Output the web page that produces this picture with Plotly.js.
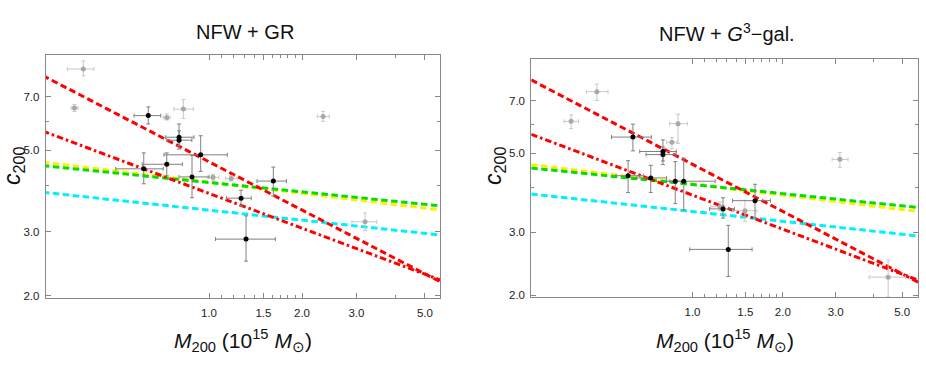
<!DOCTYPE html>
<html>
<head>
<meta charset="utf-8">
<script src="https://cdn.plot.ly/plotly-3.0.1.min.js"></script>
<style>html,body{margin:0;padding:0;background:#fff;}#chart{width:926px;height:372px;}</style>
</head>
<body>
<div id="chart"></div>
<script>
// ---------- data ----------
// model lines (same in both panels): M200 at the ends, c200 at those ends
const lineM = [0.29, 5.7];
const redDashedC = [8.0, 2.17];
const redDashDotC = [5.64, 2.20];
const yellowC = [4.64, 3.43];
const greenC = [4.54, 3.52];
const cyanC = [3.84, 2.93];

// Left panel: NFW + GR
const grBlackM   = [0.636, 0.80, 0.80, 0.94, 0.730, 0.615, 0.881, 1.27, 1.615, 1.318];
const grBlackC   = [6.22, 5.43, 5.33, 4.86, 4.58, 4.45, 4.23, 3.70, 4.12, 2.86];
const grBlackMlo = [0.572, 0.724, 0.73, 0.715, 0.608, 0.499, 0.80, 1.14, 1.43, 1.05];
const grBlackMhi = [0.698, 0.894, 0.88, 1.146, 0.82, 0.711, 1.0, 1.37, 1.78, 1.64];
const grBlackClo = [5.90, 5.15, 5.04, 4.38, 4.26, 4.05, 3.71, 3.52, 3.75, 2.49];
const grBlackChi = [6.57, 5.90, 5.65, 5.48, 4.92, 4.92, 4.84, 3.89, 4.50, 3.31];

const grGrayM   = [0.392, 0.367, 0.730, 0.826, 1.03, 1.18, 2.34, 3.2];
const grGrayC   = [8.34, 6.53, 6.15, 6.48, 4.22, 4.19, 6.19, 3.19];
const grGrayMlo = [0.348, 0.358, 0.711, 0.77, 0.987, 1.13, 2.24, 2.9];
const grGrayMhi = [0.424, 0.377, 0.748, 0.89, 1.077, 1.235, 2.45, 3.49];
const grGrayClo = [7.99, 6.38, 6.05, 6.11, 4.14, 4.12, 6.0, 3.02];
const grGrayChi = [8.77, 6.67, 6.29, 6.88, 4.29, 4.26, 6.39, 3.37];

// Right panel: NFW + G3-gal.
const galBlackM   = [0.633, 0.797, 0.797, 0.61, 0.726, 0.876, 0.935, 1.264, 1.616, 1.316];
const galBlackC   = [5.54, 5.05, 4.95, 4.32, 4.26, 4.17, 4.17, 3.49, 3.68, 2.69];
const galBlackMlo = [0.537, 0.667, 0.70, 0.556, 0.652, 0.82, 0.84, 1.14, 1.36, 0.979];
const galBlackMhi = [0.729, 0.883, 0.88, 0.686, 0.82, 0.93, 1.19, 1.38, 1.82, 1.58];
const galBlackClo = [5.07, 4.75, 4.64, 3.88, 3.88, 3.61, 3.47, 3.29, 3.29, 2.26];
const galBlackChi = [6.02, 5.44, 5.20, 4.76, 4.62, 4.73, 4.84, 3.75, 4.09, 3.14];

const galGrayM   = [0.48, 0.394, 0.895, 0.854, 1.235, 1.496, 3.10, 4.49];
const galGrayC   = [7.42, 6.13, 6.04, 5.36, 3.54, 3.45, 4.80, 2.25];
const galGrayMlo = [0.443, 0.373, 0.839, 0.82, 1.15, 1.36, 2.92, 3.88];
const galGrayMhi = [0.523, 0.417, 0.961, 0.89, 1.28, 1.64, 3.30, 5.13];
const galGrayClo = [7.01, 5.85, 5.32, 5.14, 3.45, 3.22, 4.56, 1.98];
const galGrayChi = [7.79, 6.39, 6.42, 5.52, 3.65, 3.69, 5.02, 2.51];

// ticks
const xTickVals = [1.0, 1.5, 2.0, 3.0, 5.0];
const xTickText = ['1.0', '1.5', '2.0', '3.0', '5.0'];
const xMinorVals = [1.1, 1.2, 1.3, 1.4, 1.6, 1.7, 1.8, 1.9, 4.0];
const yTickVals = [2.0, 3.0, 5.0, 7.0];
const yTickText = ['2.0', '3.0', '5.0', '7.0'];
const yMinorVals = [4.0, 6.0];

const panelTitles = ['NFW + GR', 'NFW + <i>G</i><sup>3</sup>\u2212gal.'];
const xTitle = '<i>M</i><sub>200</sub> (10<sup>15</sup> <i>M</i><sub>\u2299</sub>)';
const yTitle = '<i>c</i><sub>200</sub>';

// ---------- helpers ----------
const FONT = 'Liberation Sans, Arial, Helvetica, sans-serif';
const diff = (a, b) => a.map((v, i) => v - b[i]);

function pointsTrace(M, C, Mlo, Mhi, Clo, Chi, xa, ya, mcol, ecol) {
  return {
    type: 'scatter', mode: 'markers', x: M, y: C, xaxis: xa, yaxis: ya,
    marker: {color: mcol, size: 5},
    error_x: {type: 'data', symmetric: false, array: diff(Mhi, M), arrayminus: diff(M, Mlo), color: ecol, thickness: 1, width: 2},
    error_y: {type: 'data', symmetric: false, array: diff(Chi, C), arrayminus: diff(C, Clo), color: ecol, thickness: 1, width: 2},
    hoverinfo: 'skip', showlegend: false
  };
}
function lineTrace(C, xa, ya, color, dash) {
  return {type: 'scatter', mode: 'lines', x: lineM, y: C, xaxis: xa, yaxis: ya,
    line: {color: color, width: 3, dash: dash}, hoverinfo: 'skip', showlegend: false};
}

const traces = [];
[['x', 'y'], ['x2', 'y2']].forEach(([xa, ya]) => {
  traces.push(lineTrace(yellowC, xa, ya, '#ffee00', '6.5px,3.5px'));
  traces.push(lineTrace(greenC, xa, ya, '#00e000', '6.5px,3.5px'));
  traces.push(lineTrace(cyanC, xa, ya, '#00f0ff', '6.5px,3.5px'));
  traces.push(lineTrace(redDashedC, xa, ya, '#ff0000', '6.5px,3.5px'));
  traces.push(lineTrace(redDashDotC, xa, ya, '#ff0000', '6.5px,3px,2.5px,3px'));
});
traces.push(pointsTrace(grGrayM, grGrayC, grGrayMlo, grGrayMhi, grGrayClo, grGrayChi, 'x', 'y', '#a8a8a8', '#c8c8c8'));
traces.push(pointsTrace(grBlackM, grBlackC, grBlackMlo, grBlackMhi, grBlackClo, grBlackChi, 'x', 'y', '#000000', '#808080'));
traces.push(pointsTrace(galGrayM, galGrayC, galGrayMlo, galGrayMhi, galGrayClo, galGrayChi, 'x2', 'y2', '#a8a8a8', '#c8c8c8'));
traces.push(pointsTrace(galBlackM, galBlackC, galBlackMlo, galBlackMhi, galBlackClo, galBlackChi, 'x2', 'y2', '#000000', '#808080'));

function xAxis(domain, range, anchor) {
  return {type: 'log', domain: domain, range: range, anchor: anchor,
    tickmode: 'array', tickvals: xTickVals, ticktext: xTickText,
    ticks: 'inside', ticklen: 5, tickwidth: 1, tickcolor: '#888',
    minor: {tickmode: 'array', tickvals: xMinorVals, ticks: 'inside', ticklen: 3, tickwidth: 1, tickcolor: '#888', showgrid: false},
    showline: true, linecolor: '#888', linewidth: 1, mirror: 'ticks',
    showgrid: false, zeroline: false, ticklabelstandoff: 4,
    tickfont: {family: FONT, size: 11.5, color: '#222'}};
}
function yAxis(domain, range, anchor) {
  return {type: 'log', domain: domain, range: range, anchor: anchor,
    tickmode: 'array', tickvals: yTickVals, ticktext: yTickText,
    ticks: 'inside', ticklen: 5, tickwidth: 1, tickcolor: '#888',
    minor: {tickmode: 'array', tickvals: yMinorVals, ticks: 'inside', ticklen: 3, tickwidth: 1, tickcolor: '#888', showgrid: false},
    showline: true, linecolor: '#888', linewidth: 1, mirror: 'ticks',
    showgrid: false, zeroline: false, ticklabelstandoff: 3,
    tickfont: {family: FONT, size: 11.5, color: '#222'}};
}

const W = 926, H = 372;
const layout = {
  width: W, height: H, margin: {l: 0, r: 0, t: 0, b: 0},
  paper_bgcolor: '#fff', plot_bgcolor: '#fff', showlegend: false,
  font: {family: FONT, color: '#111'},
  xaxis: xAxis([45.7 / W, 440 / W], [-0.5285, 0.7476], 'y'),
  yaxis: yAxis([(H - 297.7) / H, (H - 55) / H], [0.2963, 0.9594], 'x'),
  xaxis2: xAxis([531.3 / W, 918.3 / W], [-0.5373, 0.7527], 'y2'),
  yaxis2: yAxis([(H - 297.3) / H, (H - 59) / H], [0.2959, 0.9616], 'x2'),
  annotations: [
    {text: panelTitles[0], x: 245 / W, y: (H - 32) / H, xref: 'paper', yref: 'paper', showarrow: false, xanchor: 'center', yanchor: 'middle', font: {family: FONT, size: 20, color: '#111'}},
    {text: panelTitles[1], x: 727 / W, y: (H - 32) / H, xref: 'paper', yref: 'paper', showarrow: false, xanchor: 'center', yanchor: 'middle', font: {family: FONT, size: 20, color: '#111'}},
    {text: xTitle, x: 243 / W, y: (H - 340) / H, xref: 'paper', yref: 'paper', showarrow: false, xanchor: 'center', yanchor: 'middle', font: {family: FONT, size: 21, color: '#111'}},
    {text: xTitle, x: 725 / W, y: (H - 340) / H, xref: 'paper', yref: 'paper', showarrow: false, xanchor: 'center', yanchor: 'middle', font: {family: FONT, size: 21, color: '#111'}},
    {text: yTitle, x: 13 / W, y: (H - 166) / H, xref: 'paper', yref: 'paper', showarrow: false, xanchor: 'center', yanchor: 'middle', textangle: -90, font: {family: FONT, size: 23, color: '#111'}},
    {text: yTitle, x: 494 / W, y: (H - 166) / H, xref: 'paper', yref: 'paper', showarrow: false, xanchor: 'center', yanchor: 'middle', textangle: -90, font: {family: FONT, size: 23, color: '#111'}}
  ]
};

Plotly.newPlot('chart', traces, layout, {staticPlot: true, displayModeBar: false});
</script>
</body>
</html>
